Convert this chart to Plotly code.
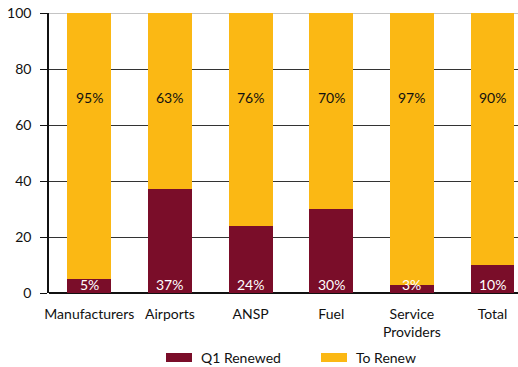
import plotly.graph_objects as go

categories = ["Manufacturers", "Airports", "ANSP", "Fuel", "Service<br>Providers", "Total"]
renewed = [5, 37, 24, 30, 3, 10]
to_renew = [95, 63, 76, 70, 97, 90]
y_ticks = [0, 20, 40, 60, 80, 100]
series_names = ["Q1 Renewed", "To Renew"]

RED = "#7A0D29"
YEL = "#FBB814"
FONT = "Lato, sans-serif"
FS = 14

fig = go.Figure()
fig.add_bar(x=categories, y=renewed, name=series_names[0], marker_color=RED,
            marker_line_width=0, width=0.545)
fig.add_bar(x=categories, y=to_renew, name=series_names[1], marker_color=YEL,
            marker_line_width=0, width=0.545)

# value labels
for c, v in zip(categories, to_renew):
    fig.add_annotation(x=c, y=70, yanchor="middle", text=f"{v}%", showarrow=False,
                       font=dict(color="#111111", size=FS, family=FONT))
for c, v in zip(categories, renewed):
    fig.add_annotation(x=c, y=0, yanchor="bottom", yshift=-2, text=f"{v}%", showarrow=False,
                       font=dict(color="white", size=FS, family=FONT))

# lighter line at the top of the plot
fig.add_shape(type="line", xref="paper", x0=0, x1=1, yref="y", y0=100, y1=100,
              line=dict(color="#c4c4c4", width=2), layer="below")

# legend (drawn below the plot, wide swatches)
PW, PH, L, B = 469.0, 280.0, 49.0, 293.0
def px(x):
    return (x - L) / PW
def py(y):
    return (B - y) / PH
legend_items = [(series_names[0], RED, 166), (series_names[1], YEL, 321)]
for name, col, x0 in legend_items:
    fig.add_shape(type="rect", xref="paper", yref="paper",
                  x0=px(x0), x1=px(x0 + 26), y0=py(362), y1=py(353),
                  fillcolor=col, line_width=0)
    fig.add_annotation(xref="paper", yref="paper", x=px(x0 + 33), y=py(357.5),
                       xanchor="left", yanchor="middle", text=name, showarrow=False,
                       font=dict(size=FS, family=FONT, color="#111111"))

fig.update_layout(
    barmode="stack",
    width=518, height=367,
    margin=dict(l=49, r=0, t=13, b=74),
    paper_bgcolor="white", plot_bgcolor="white",
    font=dict(family=FONT, size=FS, color="#111111"),
    showlegend=False,
    xaxis=dict(range=[-0.5, 5.316], showgrid=False, showline=False, ticks="",
               tickfont=dict(size=FS, family=FONT), ticklabelstandoff=11),
    yaxis=dict(range=[0, 100], tickvals=y_ticks, showgrid=True, gridcolor="#333333",
               gridwidth=1, showline=True, linecolor="#111111", linewidth=1.5,
               ticks="outside", ticklen=7, tickcolor="#111111",
               zeroline=True, zerolinecolor="#111111", zerolinewidth=1.5,
               ticklabelstandoff=6,
               tickfont=dict(size=FS, family=FONT)),
)

fig.write_html("out.html")
